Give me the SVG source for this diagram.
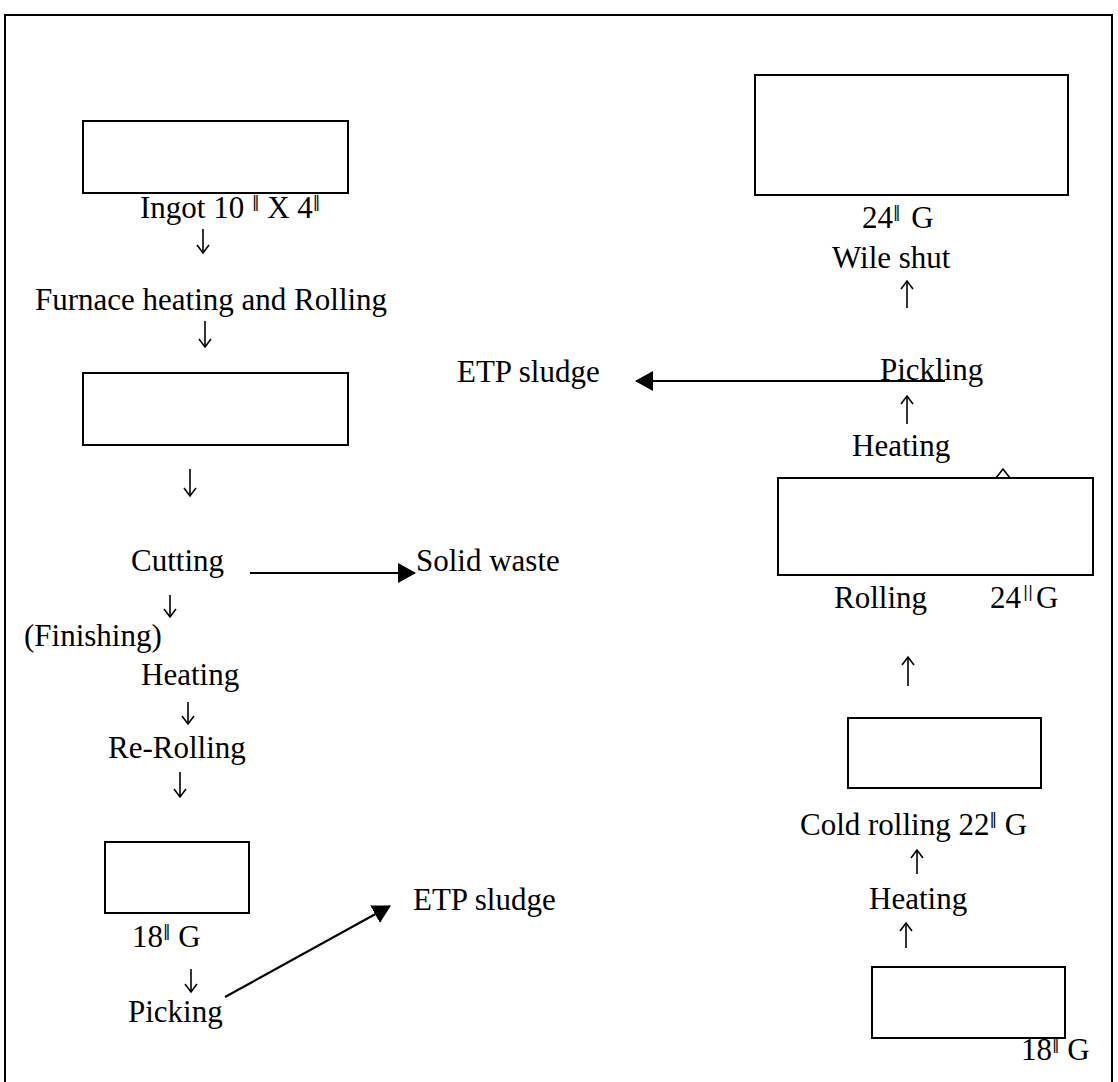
<svg xmlns="http://www.w3.org/2000/svg" width="1118" height="1082" viewBox="0 0 1118 1082">
<style>
.box{fill:#fff;stroke:#000;stroke-width:2}
.t{font-family:"Liberation Serif","Times New Roman",serif;font-size:31px;fill:#000}
.sup{font-family:"DejaVu Sans","Liberation Sans",sans-serif;font-size:15px;fill:#000}
.gl{fill:none;stroke:#000;stroke-width:1.6;marker-end:url(#open)}
.fl{fill:none;stroke:#000;stroke-width:2.2;marker-end:url(#solid)}
</style>
<defs>
<marker id="open" viewBox="-10 -8 12 16" refX="0" refY="0" markerWidth="12" markerHeight="16" markerUnits="userSpaceOnUse" orient="auto" overflow="visible">
<path d="M-8,-6 L0,0 L-8,6" fill="none" stroke="#000" stroke-width="1.6"/>
</marker>
<marker id="solid" viewBox="0 0 18 20" refX="17" refY="10" markerWidth="18" markerHeight="20" markerUnits="userSpaceOnUse" orient="auto">
<path d="M0,0 L18,10 L0,20 z" fill="#000"/>
</marker>
</defs>
<rect width="1118" height="1082" fill="#fff"/>
<path d="M5,1082 V15 H1112 V1082" fill="none" stroke="#000" stroke-width="2"/>

<g id="n-ingot"><rect class="box" x="83" y="121" width="265" height="72"/><text class="t" x="140" y="218">Ingot 10 <tspan class="sup" dy="-11">‖</tspan><tspan dy="11"> X 4</tspan><tspan class="sup" dy="-11">‖</tspan></text></g>
<g id="n-furnace"><text class="t" x="35" y="310">Furnace heating and Rolling</text></g>
<g id="n-box2"><rect class="box" x="83" y="373" width="265" height="72"/></g>
<g id="n-cutting"><text class="t" x="131" y="571">Cutting</text></g>
<g id="n-solid"><text class="t" x="416" y="571">Solid waste</text></g>
<g id="n-finishing"><text class="t" x="24" y="646">(Finishing)</text></g>
<g id="n-heating1"><text class="t" x="141" y="685">Heating</text></g>
<g id="n-rerolling"><text class="t" x="108" y="758">Re-Rolling</text></g>
<g id="n-18g"><rect class="box" x="105" y="842" width="144" height="71"/><text class="t" x="132" y="947">18<tspan class="sup" dy="-11">‖</tspan><tspan dy="11"> G</tspan></text></g>
<g id="n-picking"><text class="t" x="128" y="1022">Picking</text></g>
<g id="n-etp2"><text class="t" x="413" y="910">ETP sludge</text></g>

<g id="n-24g"><rect class="box" x="755" y="75" width="313" height="120"/><text class="t" x="862" y="228">24<tspan class="sup" dy="-11">‖</tspan><tspan dy="11" dx="3"> G</tspan></text></g>
<g id="n-wile"><text class="t" x="832" y="268">Wile shut</text></g>
<g id="n-etp1"><text class="t" x="457" y="382">ETP sludge</text></g>
<g id="n-pickling"><text class="t" x="880" y="380">Pickling</text></g>
<g id="n-heating2"><text class="t" x="852" y="456">Heating</text></g>
<g id="n-rolling"><rect class="box" x="778" y="478" width="315" height="97"/><text class="t" x="834" y="608">Rolling</text><text class="t" x="990" y="608">24<tspan class="sup" dy="-11" dx="2">||</tspan><tspan dy="11" dx="3">G</tspan></text></g>
<g id="n-cold"><rect class="box" x="848" y="718" width="193" height="70"/><text class="t" x="800" y="835">Cold rolling 22<tspan class="sup" dy="-11">‖</tspan><tspan dy="11"> G</tspan></text></g>
<g id="n-heating3"><text class="t" x="869" y="909">Heating</text></g>
<g id="n-18g-r"><rect class="box" x="872" y="967" width="193" height="71"/><text class="t" x="1021" y="1060">18<tspan class="sup" dy="-11">‖</tspan><tspan dy="11"> G</tspan></text></g>

<g id="connectors">
<path class="gl" d="M203,229 V253"/>
<path class="gl" d="M205,321 V347"/>
<path class="gl" d="M190,469 V496"/>
<path class="gl" d="M170,595 V617"/>
<path class="gl" d="M188,702 V724"/>
<path class="gl" d="M180,772 V797"/>
<path class="gl" d="M191,969 V992"/>
<path class="gl" d="M907,308 V281"/>
<path class="gl" d="M907,424 V396"/>
<path class="gl" d="M908,686 V657"/>
<path class="gl" d="M917,874 V850"/>
<path class="gl" d="M906,948 V923"/>
<path d="M996,478 L1003,469 L1010,478" fill="none" stroke="#000" stroke-width="1.6"/>
<path class="fl" d="M250,573 H415"/>
<path class="fl" d="M945,381 H636"/>
<path class="fl" d="M225,997 L390,906"/>
</g>
</svg>
